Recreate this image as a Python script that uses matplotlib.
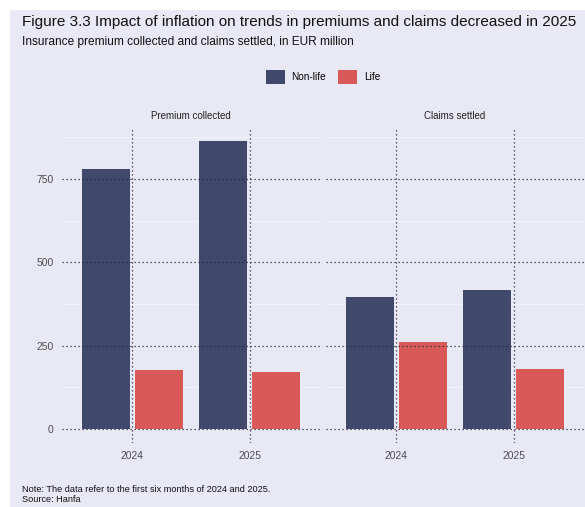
import matplotlib
matplotlib.use("Agg")
import matplotlib.pyplot as plt
from matplotlib.patches import Patch, Rectangle
import numpy as np

years = ["2024", "2025"]
panels = ["Premium collected", "Claims settled"]
non_life = {"Premium collected": [779, 863], "Claims settled": [397, 417]}
life = {"Premium collected": [177, 172], "Claims settled": [260, 181]}
y_ticks = [0, 250, 500, 750]
y_minor = [125, 375, 625, 875]

BG = "#E8E9F5"
C_NONLIFE = "#40496B"
C_LIFE = "#D95959"
W, H = 585, 507

plt.rcParams['font.family'] = ['Liberation Sans', 'DejaVu Sans']


def main():
    fig = plt.figure(figsize=(W / 100, H / 100), dpi=100)
    fig.patch.set_facecolor("white")
    fig.patches.append(Rectangle((10 / W, 0), 1 - 10 / W, 1 - 10 / H,
                                 transform=fig.transFigure, facecolor=BG,
                                 edgecolor="none", zorder=-10))

    fig.text(22 / W, 1 - 22 / H, "Figure 3.3 Impact of inflation on trends in premiums and claims decreased in 2025",
             fontsize=11.0, va="center", ha="left", color="#111111")
    fig.text(22 / W, 1 - 42 / H, "Insurance premium collected and claims settled, in EUR million",
             fontsize=8.6, va="center", ha="left", color="#111111")

    handles = [Patch(facecolor=C_NONLIFE, label="Non-life"), Patch(facecolor=C_LIFE, label="Life")]
    fig.legend(handles=handles, loc="center", bbox_to_anchor=(323 / W, 1 - 77 / H), ncol=2,
               frameon=False, fontsize=7.2, handlelength=1.9, handleheight=1.9,
               columnspacing=1.2, handletextpad=0.7, borderpad=0)

    x = np.arange(len(years))
    lefts = [62, 326]
    for i, name in enumerate(panels):
        ax = fig.add_axes([lefts[i] / W, (H - 443) / H, 258 / W, 314 / H])
        ax.set_facecolor(BG)
        # faint minor lines under the bars
        for v in y_minor:
            ax.axhline(v, color="#F4F4FA", linewidth=0.6, zorder=0)
        ax.bar(x - 0.225, non_life[name], width=0.41, color=C_NONLIFE, zorder=1)
        ax.bar(x + 0.225, life[name], width=0.41, color=C_LIFE, zorder=1)
        ax.set_xlim(-0.6, 1.6)
        ax.set_ylim(-42, 900)
        ax.set_xticks(x)
        ax.set_xticklabels(years)
        ax.set_yticks(y_ticks)
        if i == 0:
            ax.set_yticklabels([str(v) for v in y_ticks])
        else:
            ax.set_yticklabels([])
        ax.tick_params(axis="both", which="both", length=0, labelsize=7.4, colors="#4D4D4D", pad=6)
        ax.grid(which="major", color="#2B2B3A", linestyle=(0, (1, 2.2)), linewidth=0.9)
        ax.set_axisbelow(False)
        for s in ax.spines.values():
            s.set_visible(False)
        ax.set_title(name, fontsize=7, color="#222222", pad=7)

    fig.text(22 / W, 1 - 490 / H, "Note: The data refer to the first six months of 2024 and 2025.",
             fontsize=6.6, va="center", ha="left", color="#111111")
    fig.text(22 / W, 1 - 499 / H, "Source: Hanfa",
             fontsize=6.6, va="center", ha="left", color="#111111")

    fig.savefig("out.png", dpi=100)


if __name__ == "__main__":
    main()
